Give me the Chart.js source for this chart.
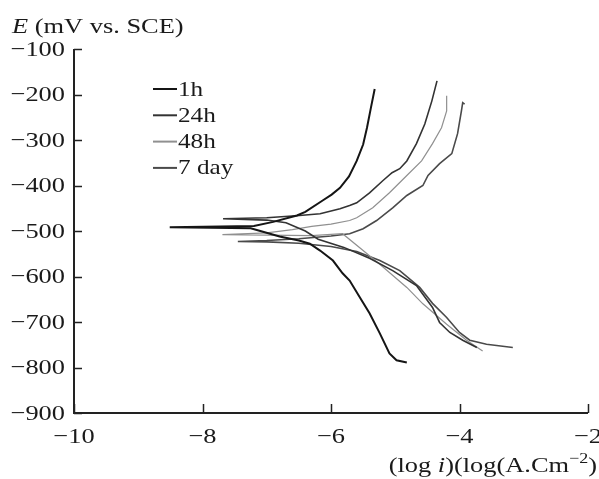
<!DOCTYPE html>
<html>
<head>
<meta charset="utf-8">
<title>Polarization curves</title>
<script src="https://cdn.jsdelivr.net/npm/chart.js@4.4.1/dist/chart.umd.min.js"></script>
<style>
  html, body { margin: 0; padding: 0; background: #fff; }
  #wrap { width: 599px; height: 479px; }
</style>
</head>
<body>
<div id="wrap"><canvas id="tafelChart" width="599" height="479"></canvas></div>
<script>
// Immersion times shown in the legend
const seriesNames = ['1h', '24h', '48h', '7 day'];

// Axis ticks
const xTicks = [-10, -8, -6, -4, -2];
const yTicks = [-100, -200, -300, -400, -500, -600, -700, -800, -900];

// Each curve is listed in scan order: cathodic end -> corrosion potential -> anodic end
// log i (A/cm2)
const logI1h = [-4.82, -4.98, -5.09, -5.24, -5.40, -5.55, -5.71, -5.82, -5.97, -6.17, -6.33, -6.50, -6.80, -7.10, -7.25, -8.51,
                -7.20, -6.90, -6.53, -6.40, -6.13, -5.99, -5.86, -5.72, -5.60, -5.50, -5.44, -5.38, -5.32];
const e1h    = [-789, -784, -769, -725, -681, -646, -609, -593, -565, -543, -528, -521, -512, -500, -494, -492,
                -489, -480, -466, -458, -433, -420, -405, -380, -346, -310, -273, -230, -188];

const logI24h = [-3.73, -3.95, -4.15, -4.31, -4.42, -4.67, -5.04, -5.40, -5.80, -6.20, -6.40, -6.70, -7.00, -7.68,
                 -7.00, -6.49, -6.17, -5.86, -5.71, -5.60, -5.40, -5.19, -5.05, -4.93, -4.82, -4.67, -4.54, -4.43, -4.35];
const e24h    = [-756, -740, -723, -701, -668, -620, -587, -560, -536, -518, -500, -482, -476, -473,
                 -471, -466, -462, -451, -444, -438, -416, -389, -372, -363, -346, -308, -265, -214, -170];

const logI48h = [-3.64, -3.89, -4.20, -4.57, -4.82, -5.20, -5.50, -5.82, -6.30, -7.00, -7.69,
                 -7.00, -6.60, -6.30, -6.00, -5.71, -5.60, -5.35, -5.09, -4.82, -4.59, -4.42, -4.28, -4.20, -4.20];
const e48h    = [-764, -740, -705, -660, -624, -578, -543, -506, -510, -509, -508,
                 -504, -497, -490, -485, -477, -471, -449, -416, -378, -346, -308, -273, -236, -203];

const logI7d = [-3.17, -3.58, -3.84, -4.00, -4.20, -4.42, -4.62, -4.93, -5.24, -5.60, -6.00, -6.50, -7.00, -7.45,
                -7.00, -6.50, -6.00, -5.71, -5.50, -5.29, -5.04, -4.82, -4.57, -4.49, -4.31, -4.12, -4.03, -3.97, -3.95, -3.92];
const e7d    = [-756, -749, -740, -723, -690, -659, -624, -587, -565, -545, -534, -527, -524, -523,
                -521, -517, -511, -506, -495, -477, -449, -422, -400, -378, -352, -330, -286, -236, -218, -221];

const lineColors = ['#151515', '#333333', '#909090', '#4a4a4a'];
const lineWidths = [2, 1.6, 1.2, 1.6];

const FONT = '"Liberation Serif", "DejaVu Serif", serif';
const STRETCH = 1.2;   // the serif face is set a little wide

function toPoints(xs, ys) {
    return xs.map((x, i) => ({ x: x, y: ys[i] }));
}

const curves = [
    toPoints(logI1h, e1h),
    toPoints(logI24h, e24h),
    toPoints(logI48h, e48h),
    toPoints(logI7d, e7d)
];

const minus = v => String(v).replace('-', '\u2212');

// width of a string once stretched
function textWidth(ctx, text, font) {
    ctx.font = font;
    return ctx.measureText(text).width * STRETCH;
}

// draw left-aligned text stretched horizontally
function drawText(ctx, text, x, y, font) {
    ctx.save();
    ctx.font = font;
    ctx.translate(x, y);
    ctx.scale(STRETCH, 1);
    ctx.textAlign = 'left';
    ctx.fillText(text, 0, 0);
    ctx.restore();
}

/**
 * Draws the axis frame with inward ticks, tick labels, axis titles and the legend
 */
const frameAndLabels = {
    id: 'frameAndLabels',
    afterDraw(chart) {
        const ctx = chart.ctx;
        const area = chart.chartArea;
        const xs = chart.scales.x;
        const ys = chart.scales.y;
        const tickFont = '22px ' + FONT;

        ctx.save();
        ctx.strokeStyle = '#222';
        ctx.lineWidth = 2;
        ctx.beginPath();
        ctx.moveTo(area.left, area.top);
        ctx.lineTo(area.left, area.bottom);
        ctx.lineTo(area.right, area.bottom);
        ctx.stroke();

        // inward ticks
        ctx.lineWidth = 1.5;
        ctx.beginPath();
        yTicks.forEach(v => {
            const py = Math.round(ys.getPixelForValue(v)) + 0.5;
            ctx.moveTo(area.left, py);
            ctx.lineTo(area.left + 8, py);
        });
        xTicks.forEach(v => {
            const px = Math.round(xs.getPixelForValue(v)) + 0.5;
            ctx.moveTo(px, area.bottom);
            ctx.lineTo(px, area.bottom - 9);
        });
        ctx.stroke();

        ctx.fillStyle = '#1a1a1a';
        ctx.textBaseline = 'middle';

        // tick labels
        yTicks.forEach(v => {
            const t = minus(v);
            const w = textWidth(ctx, t, tickFont);
            drawText(ctx, t, area.left - 9 - w, ys.getPixelForValue(v) + 1, tickFont);
        });
        xTicks.forEach(v => {
            const t = minus(v);
            const w = textWidth(ctx, t, tickFont);
            drawText(ctx, t, xs.getPixelForValue(v) - w / 2, area.bottom + 24, tickFont);
        });

        ctx.textBaseline = 'alphabetic';

        // y axis title
        const eW = textWidth(ctx, 'E', 'italic 22px ' + FONT);
        drawText(ctx, 'E', 12, 33, 'italic 22px ' + FONT);
        drawText(ctx, ' (mV vs. SCE)', 12 + eW, 33, '22px ' + FONT);

        // x axis title, right aligned
        const parts = [
            { t: '(log ', f: '22px ' + FONT, dy: 0 },
            { t: 'i', f: 'italic 22px ' + FONT, dy: 0 },
            { t: ')(log(A.Cm', f: '22px ' + FONT, dy: 0 },
            { t: '\u22122', f: '15px ' + FONT, dy: -9 },
            { t: ')', f: '22px ' + FONT, dy: 0 }
        ];
        let total = 0;
        parts.forEach(p => { p.w = textWidth(ctx, p.t, p.f); total += p.w; });
        let cx = 597 - total;
        parts.forEach(p => {
            drawText(ctx, p.t, cx, 472 + p.dy, p.f);
            cx += p.w;
        });

        // legend
        ctx.textBaseline = 'middle';
        seriesNames.forEach((name, i) => {
            const y = 89 + i * 26.3;
            ctx.strokeStyle = lineColors[i];
            ctx.lineWidth = 2;
            ctx.beginPath();
            ctx.moveTo(153, y);
            ctx.lineTo(177, y);
            ctx.stroke();
            drawText(ctx, name, 178, y + 1, '21px ' + FONT);
        });
        ctx.restore();
    }
};

const chart = new Chart(document.getElementById('tafelChart'), {
    type: 'scatter',
    data: {
        datasets: curves.map((pts, i) => ({
            label: seriesNames[i],
            data: pts,
            showLine: true,
            borderColor: lineColors[i],
            borderWidth: lineWidths[i],
            pointRadius: 0,
            tension: 0,
            fill: false
        }))
    },
    options: {
        responsive: false,
        animation: false,
        devicePixelRatio: 1,
        layout: { padding: { top: 49, right: 11, left: 0, bottom: 0 } },
        plugins: {
            legend: { display: false },
            tooltip: { enabled: false }
        },
        scales: {
            x: {
                type: 'linear',
                min: -10,
                max: -2,
                afterBuildTicks: s => { s.ticks = xTicks.map(v => ({ value: v })); },
                afterFit: s => { s.height = 66; },
                grid: { display: false, drawTicks: false },
                border: { display: false },
                ticks: { display: false }
            },
            y: {
                type: 'linear',
                min: -900,
                max: -100,
                afterBuildTicks: s => { s.ticks = yTicks.map(v => ({ value: v })); },
                afterFit: s => { s.width = 74; },
                grid: { display: false, drawTicks: false },
                border: { display: false },
                ticks: { display: false }
            }
        }
    },
    plugins: [frameAndLabels]
});
</script>
</body>
</html>
